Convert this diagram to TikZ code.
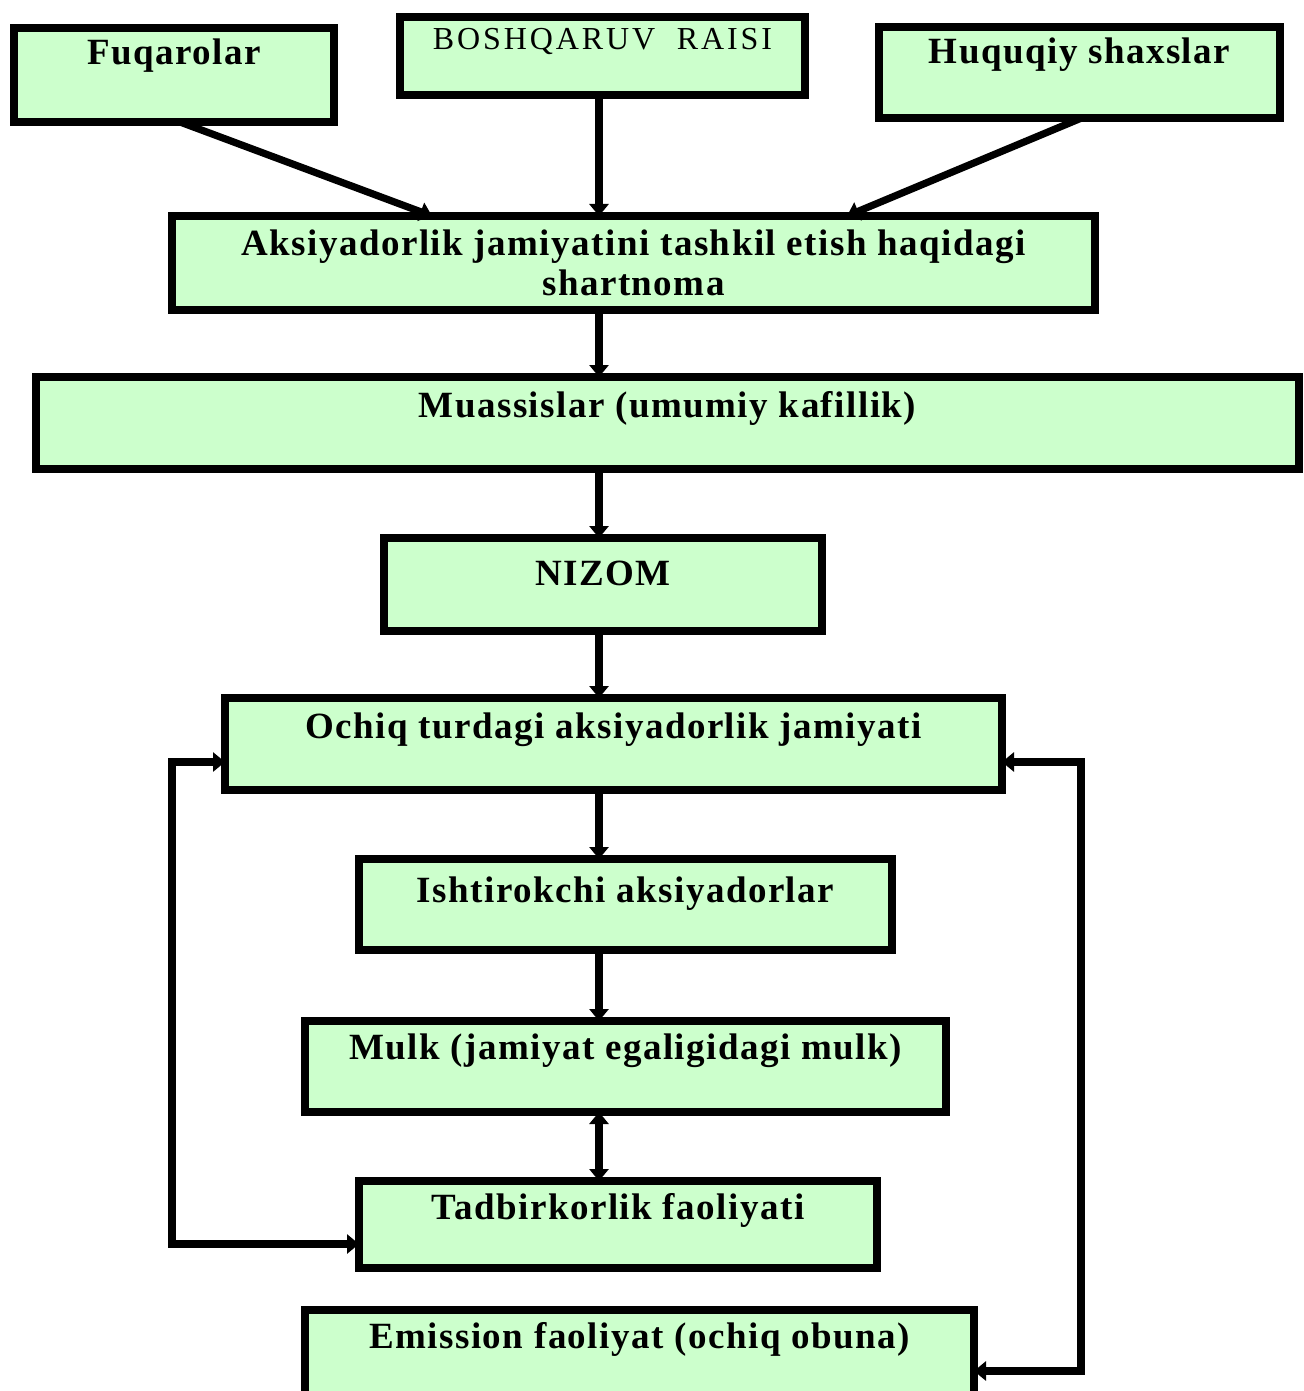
\documentclass[tikz,border=0pt]{standalone}
\usepackage{fontspec}
\setmainfont{Liberation Serif}
\newfontfamily\boxfont[LetterSpace=4]{Liberation Serif}
\newfontfamily\capsfont[LetterSpace=9]{Liberation Serif}
\usetikzlibrary{arrows.meta,calc}
\definecolor{boxgreen}{HTML}{CCFFCC}
\tikzset{
  bx/.style={draw=black, fill=boxgreen, line width=3.9pt, inner sep=0pt, outer sep=0pt, rectangle},
  sz/.style 2 args={minimum width=#1*0.5pt, minimum height=#2*0.5pt},
  lb/.style={font=\boxfont\bfseries\fontsize{18.5}{20}\selectfont, anchor=base, inner sep=0pt, align=center},
  lbr/.style={font=\capsfont\fontsize{16}{18}\selectfont, anchor=base, inner sep=0pt},
  arr/.style={line width=3.6pt, -{Triangle[length=6pt,width=9.5pt]}},
  darr/.style={line width=3.6pt, {Triangle[length=6pt,width=9.5pt]}-{Triangle[length=6pt,width=9.5pt]}}
}
\begin{document}
\begin{tikzpicture}[x=0.5pt,y=-0.5pt]
\useasboundingbox (0,0) rectangle (1304,1391);
\clip (0,0) rectangle (1304,1391);
% boxes
\node[bx, sz={320}{94}, label={[lb, yshift=-18.5pt]north:Fuqarolar}] (fuq) at (174,75) {};
\node[bx, sz={405}{78}, label={[lbr, yshift=-16.5pt]north:BOSHQARUV\ \ RAISI}] (bosh) at (602.5,56) {};
\node[bx, sz={401}{91}, label={[lb, yshift=-18.5pt]north:Huquqiy shaxslar}] (huq) at (1079.5,72.5) {};
\node[bx, sz={923}{94}, label={[lb, yshift=-39.5pt]north:Aksiyadorlik jamiyatini tashkil etish haqidagi\\shartnoma}] (aks) at (633.5,263) {};
\node[bx, sz={1263}{92}, label={[lb, yshift=-20pt]north:Muassislar (umumiy kafillik)}] (mua) at (667.5,423) {};
\node[bx, sz={438}{93}, label={[lb, yshift=-23.5pt]north:NIZOM}] (niz) at (603,584.5) {};
\node[bx, sz={777}{92}, label={[lb, yshift=-20pt]north:Ochiq turdagi aksiyadorlik jamiyati}] (och) at (613.5,744) {};
\node[bx, sz={533}{91}, label={[lb, yshift=-21.5pt]north:Ishtirokchi aksiyadorlar}] (ish) at (625.5,904.5) {};
\node[bx, sz={641}{91}, label={[lb, yshift=-19pt]north:Mulk (jamiyat egaligidagi mulk)}] (mul) at (625.5,1066.5) {};
\node[bx, sz={518}{87}, label={[lb, yshift=-19pt]north:Tadbirkorlik faoliyati}] (tad) at (618,1224.5) {};
\node[bx, sz={669}{100}, label={[lb, yshift=-19pt]north:Emission faoliyat (ochiq obuna)}] (emi) at (639.5,1360) {};
% helper coordinates
\coordinate (col) at (599,0);
\coordinate (ly) at (0,762);
\coordinate (lx) at (172,1244);
\coordinate (rx) at (1081,1371);
% connectors
\draw[arr] ($(fuq.south)+(6,0)$) -- ($(aks.north west)+(260,0)$);
\draw[arr] (bosh.south -| col) -- (aks.north -| col);
\draw[arr] ($(huq.south)+(2,0)$) -- ($(aks.north west)+(675,0)$);
\draw[arr] (aks.south -| col) -- (mua.north -| col);
\draw[arr] (mua.south -| col) -- (niz.north -| col);
\draw[arr] (niz.south -| col) -- (och.north -| col);
\draw[arr] (och.south -| col) -- (ish.north -| col);
\draw[arr] (ish.south -| col) -- (mul.north -| col);
\draw[darr] (mul.south -| col) -- (tad.north -| col);
\draw[darr] (och.west |- ly) -| (lx) -- (tad.west |- lx);
\draw[darr] (och.east |- ly) -| (rx) -- (emi.east |- rx);
\end{tikzpicture}
\end{document}
